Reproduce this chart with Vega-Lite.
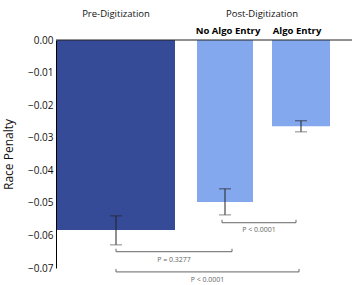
{
  "$schema": "https://vega.github.io/schema/vega-lite/v6.json",
  "width": 300,
  "height": 228,
  "autosize": "none",
  "padding": {"left": 56, "top": 40, "right": 0, "bottom": 17},
  "background": "white",
  "config": {"view": {"stroke": null}, "font": "Open Sans"},
  "resolve": {"axis": {"y": "independent"}},
  "datasets": {
    "bars": [
      {"group": "Pre-Digitization", "x1": 1, "x2": 119, "value": -0.0583, "lo": -0.0540, "hi": -0.0629, "xc": 60},
      {"group": "No Algo Entry", "x1": 141, "x2": 197, "value": -0.0497, "lo": -0.0457, "hi": -0.0537, "xc": 169},
      {"group": "Algo Entry", "x1": 216, "x2": 274, "value": -0.0265, "lo": -0.0248, "hi": -0.0282, "xc": 245}
    ],
    "brackets": [
      {"a": 166, "b": 240, "y": -0.0561, "ytop": -0.0552, "ly": -0.0584, "label": "P < 0.0001"},
      {"a": 60, "b": 176, "y": -0.0650, "ytop": -0.0641, "ly": -0.0674, "label": "P = 0.3277"},
      {"a": 60, "b": 243, "y": -0.0712, "ytop": -0.0703, "ly": -0.0736, "label": "P < 0.0001"}
    ],
    "headers": [
      {"label": "Pre-Digitization", "x": 60, "y": 0.0079},
      {"label": "Post-Digitization", "x": 206, "y": 0.0079}
    ],
    "subheaders": [
      {"label": "No Algo Entry", "x": 172, "y": 0.0028},
      {"label": "Algo Entry", "x": 241, "y": 0.0028}
    ],
    "zero": [{"a": 0, "b": 296, "y": 0}]
  },
  "layer": [
    {
      "data": {"name": "bars"},
      "mark": {"type": "bar"},
      "encoding": {
        "x": {"field": "x1", "type": "quantitative", "scale": {"domain": [0, 300]}, "axis": null},
        "x2": {"field": "x2"},
        "y": {"field": "value", "type": "quantitative", "scale": {"domain": [-0.07, 0], "nice": false},
          "axis": {"title": "Race Penalty", "values": [0, -0.01, -0.02, -0.03, -0.04, -0.05, -0.06, -0.07], "format": ".2f", "ticks": false, "grid": false, "labelOverlap": false, "domainColor": "#000", "labelColor": "#111", "labelFontSize": 10, "labelPadding": 3, "titleFontSize": 12, "titleFontWeight": "normal", "titleColor": "#111", "titlePadding": 12}},
        "y2": {"datum": 0},
        "color": {"field": "group", "type": "nominal", "scale": {"domain": ["Pre-Digitization", "No Algo Entry", "Algo Entry"], "range": ["#364b98", "#84a8ee", "#84a8ee"]}, "legend": null}
      }
    },
    {
      "data": {"name": "zero"},
      "mark": {"type": "rule", "color": "#222", "strokeWidth": 1},
      "encoding": {"x": {"field": "a", "type": "quantitative"}, "x2": {"field": "b"}, "y": {"field": "y", "type": "quantitative", "axis": null}}
    },
    {
      "data": {"name": "bars"},
      "mark": {"type": "rule", "color": "#222", "strokeWidth": 1},
      "encoding": {"x": {"field": "xc", "type": "quantitative"}, "y": {"field": "lo", "type": "quantitative", "axis": null}, "y2": {"field": "hi"}}
    },
    {
      "data": {"name": "bars"},
      "mark": {"type": "tick", "color": "#222", "orient": "horizontal", "size": 12, "thickness": 1},
      "encoding": {"x": {"field": "xc", "type": "quantitative"}, "y": {"field": "lo", "type": "quantitative", "axis": null}}
    },
    {
      "data": {"name": "bars"},
      "mark": {"type": "tick", "color": "#555", "orient": "horizontal", "size": 12, "thickness": 1},
      "encoding": {"x": {"field": "xc", "type": "quantitative"}, "y": {"field": "hi", "type": "quantitative", "axis": null}}
    },
    {
      "data": {"name": "brackets"},
      "mark": {"type": "rule", "color": "#666", "strokeWidth": 1},
      "encoding": {"x": {"field": "a", "type": "quantitative"}, "x2": {"field": "b"}, "y": {"field": "y", "type": "quantitative", "axis": null}}
    },
    {
      "data": {"name": "brackets"},
      "mark": {"type": "rule", "color": "#666", "strokeWidth": 1},
      "encoding": {"x": {"field": "a", "type": "quantitative"}, "y": {"field": "y", "type": "quantitative", "axis": null}, "y2": {"field": "ytop"}}
    },
    {
      "data": {"name": "brackets"},
      "mark": {"type": "rule", "color": "#666", "strokeWidth": 1},
      "encoding": {"x": {"field": "b", "type": "quantitative"}, "y": {"field": "y", "type": "quantitative", "axis": null}, "y2": {"field": "ytop"}}
    },
    {
      "data": {"name": "brackets"},
      "transform": [{"calculate": "(datum.a + datum.b) / 2", "as": "mid"}],
      "mark": {"type": "text", "fontSize": 7, "color": "#666", "baseline": "middle"},
      "encoding": {"x": {"field": "mid", "type": "quantitative"}, "y": {"field": "ly", "type": "quantitative", "axis": null}, "text": {"field": "label"}}
    },
    {
      "data": {"name": "headers"},
      "mark": {"type": "text", "fontSize": 9.5, "color": "#111", "baseline": "middle"},
      "encoding": {"x": {"field": "x", "type": "quantitative"}, "y": {"field": "y", "type": "quantitative", "axis": null}, "text": {"field": "label"}}
    },
    {
      "data": {"name": "subheaders"},
      "mark": {"type": "text", "fontSize": 9.5, "fontWeight": "bold", "color": "#000", "baseline": "middle"},
      "encoding": {"x": {"field": "x", "type": "quantitative"}, "y": {"field": "y", "type": "quantitative", "axis": null}, "text": {"field": "label"}}
    }
  ]
}
